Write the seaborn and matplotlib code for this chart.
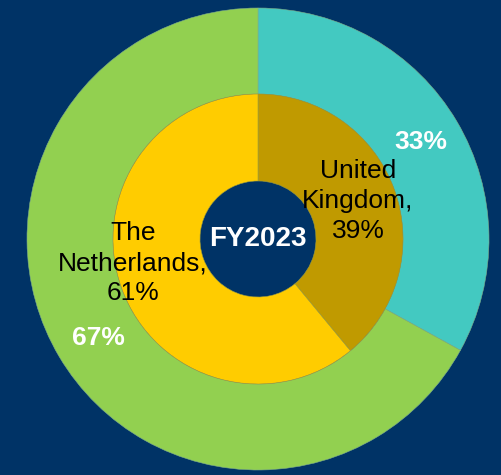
import matplotlib
matplotlib.use("Agg")
import matplotlib.pyplot as plt
import seaborn as sns

# outer ring: share of something per FY
outer_labels = ['33%', '67%']
outer_values = [33, 67]
outer_colors = ['#43C9C1', '#92D050']

# inner ring: country split
inner_labels = ['United\nKingdom,\n39%', 'The\nNetherlands,\n61%']
inner_values = [39, 61]
inner_colors = ['#C09A00', '#FFCC00']

center_text = 'FY2023'
bg = '#003366'

sns.set_style("white")
plt.rcParams['font.family'] = ['Liberation Sans', 'DejaVu Sans']

fig = plt.figure(figsize=(5.02, 4.75), dpi=100, facecolor=bg)
ax = fig.add_axes([0, 0, 1, 1])
ax.set_facecolor(bg)

cx, cy = 258, 236

ax.pie(outer_values, colors=outer_colors, startangle=90, counterclock=False,
       radius=231, center=(cx, cy),
       wedgeprops=dict(width=86, edgecolor='#7fae8a', linewidth=0.4))
ax.pie(inner_values, colors=inner_colors, startangle=90, counterclock=False,
       radius=145, center=(cx, cy),
       wedgeprops=dict(width=87, edgecolor='#9a9a40', linewidth=0.4))

ax.set_xlim(0, 502)
ax.set_ylim(0, 475)
ax.set_aspect('equal')
ax.axis('off')

# outer labels
ax.text(421, 475 - 142, outer_labels[0], color='white', fontsize=19,
        fontweight='bold', ha='center', va='center')
ax.text(98, 475 - 338, outer_labels[1], color='white', fontsize=19,
        fontweight='bold', ha='center', va='center')

# inner labels
ax.text(358, 475 - 201, inner_labels[0], color='black', fontsize=19,
        ha='center', va='center', linespacing=1.32)
ax.text(133, 475 - 263, inner_labels[1], color='black', fontsize=19,
        ha='center', va='center', linespacing=1.32)

ax.text(cx, cy, center_text, color='white', fontsize=20, fontweight='bold',
        ha='center', va='center')

fig.savefig('out.png', dpi=100, facecolor=bg)
